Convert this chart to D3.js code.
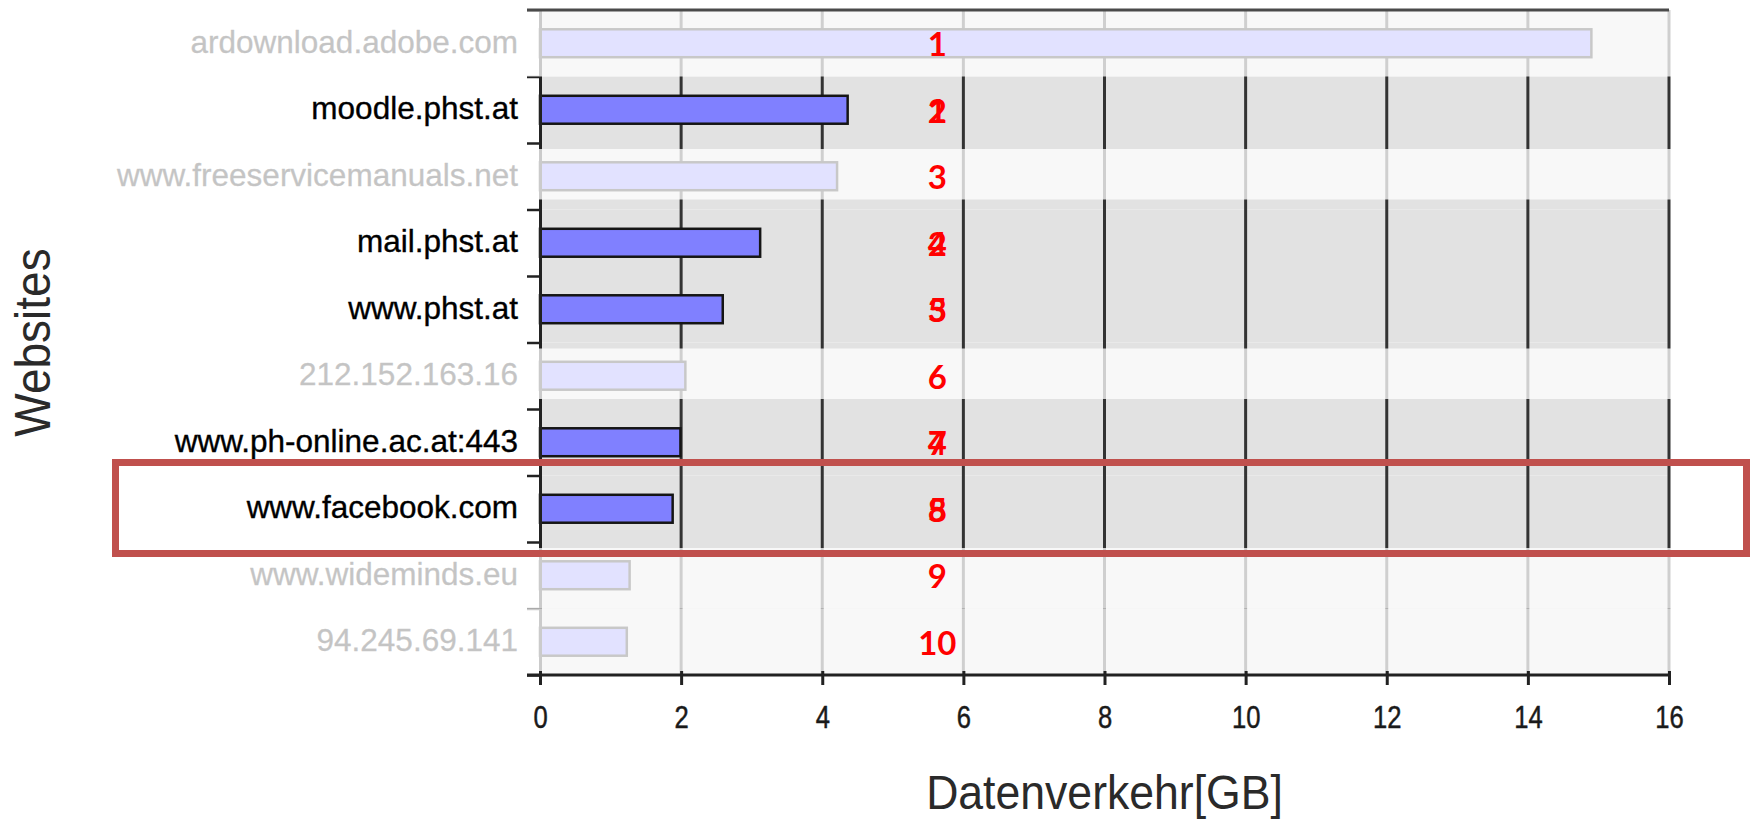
<!DOCTYPE html>
<html>
<head>
<meta charset="utf-8">
<script src="https://cdn.jsdelivr.net/npm/d3@7"></script>
<style>
  html, body { margin: 0; padding: 0; background: #ffffff; }
  svg { display: block; }
</style>
</head>
<body>
<svg id="chart" width="1758" height="819"></svg>
<script>
// ---- data ----
const categories = [
  "ardownload.adobe.com",
  "moodle.phst.at",
  "www.freeservicemanuals.net",
  "mail.phst.at",
  "www.phst.at",
  "212.152.163.16",
  "www.ph-online.ac.at:443",
  "www.facebook.com",
  "www.wideminds.eu",
  "94.245.69.141"
];
const values = [14.9, 4.36, 4.21, 3.12, 2.59, 2.06, 1.99, 1.88, 1.27, 1.23];
const highlighted = [false, true, false, true, true, false, true, true, false, false];
const rankLabels = ["1", "2", "3", "4", "5", "6", "7", "8", "9", "10"];
const highlightRankLabels = [null, "1", null, "2", "3", null, "4", "5", null, null];
const xTicks = [0, 2, 4, 6, 8, 10, 12, 14, 16];
const xTitle = "Datenverkehr[GB]";
const yTitle = "Websites";
const markedCategory = "www.facebook.com";

// ---- layout ----
const svg = d3.select("#chart");
const plotLeft = 540, plotRight = 1669, plotTop = 10, plotBottom = 675;

const x = d3.scaleLinear().domain([0, 16]).range([plotLeft, plotRight]);
const y = d3.scaleBand().domain(categories).range([plotTop, plotBottom]).padding(0);
const edges = d3.scaleLinear().domain([0, categories.length]).range([plotTop, plotBottom]);
const bw = y.bandwidth();
const barH = bw * 0.42;

const rows = categories.map((c, i) => ({c, v: values[i], hl: highlighted[i], i}));

// bands
svg.append("g").selectAll("rect").data(rows).join("rect")
  .attr("x", plotLeft).attr("y", d => y(d.c))
  .attr("width", plotRight - plotLeft).attr("height", bw)
  .attr("fill", "#e2e2e2");

// vertical grid
svg.append("g").selectAll("line").data(xTicks.filter(t => t > 0)).join("line")
  .attr("x1", d => x(d)).attr("x2", d => x(d))
  .attr("y1", plotTop).attr("y2", plotBottom)
  .attr("stroke", "#333").attr("stroke-width", 3);

// bars
svg.append("g").selectAll("rect").data(rows).join("rect")
  .attr("x", x(0)).attr("y", d => y(d.c) + (bw - barH) / 2)
  .attr("width", d => x(d.v) - x(0)).attr("height", barH)
  .attr("fill", "#8080ff").attr("stroke", "#151515").attr("stroke-width", 2.5);

// y axis (line + boundary ticks)
const yTickAxis = d3.axisLeft(edges).tickValues(d3.range(categories.length + 1))
  .tickSize(13).tickSizeOuter(0).tickFormat("");
const gyt = svg.append("g").attr("transform", `translate(${plotLeft},0)`).call(yTickAxis);
gyt.select(".domain").attr("stroke", "#222").attr("stroke-width", 3);
gyt.selectAll(".tick line").attr("stroke", "#222").attr("stroke-width", 2.5);

// y labels
const yLabAxis = d3.axisLeft(y).tickSize(0).tickPadding(22);
const gyl = svg.append("g").attr("transform", `translate(${plotLeft},0)`).call(yLabAxis);
gyl.select(".domain").remove();
gyl.selectAll(".tick text")
  .attr("font-family", "'Liberation Sans', Arial, sans-serif")
  .attr("font-size", 31.5).attr("fill", "#000")
  .attr("stroke", "#000").attr("stroke-width", 0.35)
  .attr("dy", "0.3em");

// faded overlay for non-highlighted rows
svg.append("g").selectAll("rect").data(rows.filter(d => !d.hl)).join("rect")
  .attr("x", 0)
  .attr("y", d => y(d.c) + (d.i > 0 && highlighted[d.i - 1] ? 6 : 0))
  .attr("width", plotRight + 3)
  .attr("height", d => {
    const top = (d.i > 0 && highlighted[d.i - 1] ? 6 : 0);
    const bot = (d.i > 0 && d.i < categories.length - 1 && highlighted[d.i + 1] ? 10 : 0);
    return bw - top - bot;
  })
  .attr("fill", "#ffffff").attr("fill-opacity", 0.77);

// top border
svg.append("line")
  .attr("x1", plotLeft - 13).attr("x2", plotRight)
  .attr("y1", plotTop).attr("y2", plotTop)
  .attr("stroke", "#4a4a4a").attr("stroke-width", 3);

// x axis
const xAxis = d3.axisBottom(x).tickValues(xTicks).tickSize(10).tickSizeOuter(0);
const gx = svg.append("g").attr("transform", `translate(0,${plotBottom})`).call(xAxis);
gx.select(".domain").remove();
gx.insert("line", ":first-child")
  .attr("x1", plotLeft - 13).attr("x2", plotRight)
  .attr("y1", 0).attr("y2", 0)
  .attr("stroke", "#222").attr("stroke-width", 3);
gx.selectAll(".tick line").attr("y1", -4).attr("y2", 10)
  .attr("stroke", "#222").attr("stroke-width", 3);
gx.selectAll(".tick text")
  .attr("font-family", "'Liberation Sans', Arial, sans-serif")
  .attr("font-size", 32).attr("fill", "#1a1a1a")
  .attr("stroke", "#1a1a1a").attr("stroke-width", 0.5)
  .attr("y", 53).attr("dy", 0)
  .attr("transform", "scale(0.8,1)");

// axis titles
svg.append("text")
  .attr("transform", `translate(${(plotLeft + plotRight) / 2},809) scale(0.91,1)`)
  .attr("text-anchor", "middle")
  .attr("font-family", "'Liberation Sans', Arial, sans-serif")
  .attr("font-size", 49).attr("fill", "#2a2a2a")
  .text(xTitle);

svg.append("text")
  .attr("transform", `translate(50,${(plotTop + plotBottom) / 2}) rotate(-90) scale(0.92,1)`)
  .attr("text-anchor", "middle")
  .attr("font-family", "'Liberation Sans', Arial, sans-serif")
  .attr("font-size", 50).attr("fill", "#2a2a2a")
  .text(yTitle);

// red rank numbers
const numX = x(5.63);
const numFont = "Lato, 'Open Sans', sans-serif";
svg.append("g").selectAll("text").data(rows).join("text")
  .attr("x", numX).attr("y", d => y(d.c) + bw / 2 + 1).attr("dy", "0.36em")
  .attr("text-anchor", "middle").attr("font-family", numFont)
  .attr("font-weight", "bold").attr("font-size", 33).attr("fill", "#ff0000")
  .text(d => rankLabels[d.i]);
svg.append("g").selectAll("text").data(rows.filter(d => highlightRankLabels[d.i])).join("text")
  .attr("x", numX).attr("y", d => y(d.c) + bw / 2 + 1).attr("dy", "0.36em")
  .attr("text-anchor", "middle").attr("font-family", numFont)
  .attr("font-weight", "bold").attr("font-size", 33).attr("fill", "#ff0000")
  .text(d => highlightRankLabels[d.i]);

// red marker rectangle around the marked row
svg.append("rect")
  .attr("x", 115.5).attr("y", y(markedCategory) - 13)
  .attr("width", 1746.5 - 115.5).attr("height", bw + 24.5)
  .attr("fill", "none").attr("stroke", "#c0504d").attr("stroke-width", 7);
</script>
</body>
</html>
